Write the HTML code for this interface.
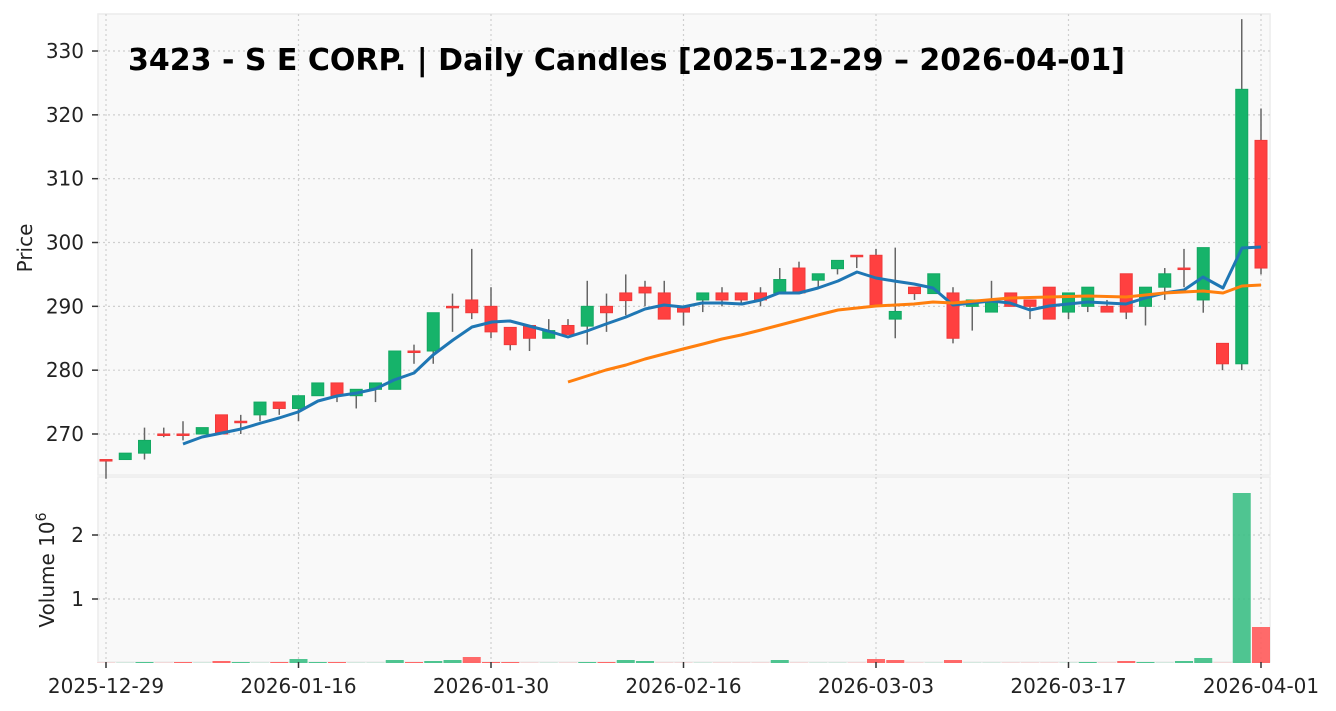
<!DOCTYPE html>
<html><head><meta charset="utf-8"><style>
html,body{margin:0;padding:0;background:#fff;}
svg{display:block;font-family:"DejaVu Sans","Liberation Sans",sans-serif;}
</style></head><body>
<svg id="s" width="1336" height="711" viewBox="0 0 1336 711" xmlns="http://www.w3.org/2000/svg">
<rect x="98" y="14" width="1172" height="461" fill="#f9f9f9" stroke="#ececec" stroke-width="1.5"/>
<rect x="98" y="477" width="1172" height="185" fill="#f9f9f9" stroke="#ececec" stroke-width="1.5"/>
<g id="grid" stroke="#cfcfcf" stroke-width="1.2" stroke-dasharray="2,3"></g>
<g id="vol"></g>
<g id="candles"></g>
<polyline id="ma1" fill="none" stroke="#1f77b4" stroke-width="3" stroke-linejoin="round"/>
<polyline id="ma2" fill="none" stroke="#ff7f0e" stroke-width="3" stroke-linejoin="round"/>
<g id="ticks" fill="#222" font-size="20"></g>
<text x="128" y="70" font-size="30" font-weight="bold" fill="#000">3423 - S E CORP. | Daily Candles [2025-12-29 – 2026-04-01]</text>
<text transform="translate(32,248) rotate(-90)" font-size="20" text-anchor="middle" fill="#222">Price</text>
<text transform="translate(54,570) rotate(-90)" font-size="20" text-anchor="middle" fill="#222">Volume  10<tspan font-size="14" dy="-8">6</tspan></text>
</svg>
<script>
var NS="http://www.w3.org/2000/svg";
function el(p,t,a,txt){var e=document.createElementNS(NS,t);for(var k in a)e.setAttribute(k,a[k]);if(txt!==undefined)e.textContent=txt;document.getElementById(p).appendChild(e);return e;}
function X(i){return 106+i*19.25;}
function Y(p){return 434-(p-270)*6.383;}
function VY(v){return 663-v*64;}
var xt=[[0,"2025-12-29"],[10,"2026-01-16"],[20,"2026-01-30"],[30,"2026-02-16"],[40,"2026-03-03"],[50,"2026-03-17"],[60,"2026-04-01"]];
xt.forEach(function(t){var x=X(t[0]);el("grid","line",{x1:x,x2:x,y1:14,y2:475});el("grid","line",{x1:x,x2:x,y1:477,y2:662});
el("ticks","line",{x1:x,x2:x,y1:662,y2:668,stroke:"#333","stroke-width":1.5});
el("ticks","text",{x:x,y:693,"text-anchor":"middle"},t[1]);});
for(var p=270;p<=330;p+=10){var y=Y(p);el("grid","line",{x1:98,x2:1270,y1:y,y2:y});
el("ticks","line",{x1:92,x2:98,y1:y,y2:y,stroke:"#333","stroke-width":1.5});
el("ticks","text",{x:84,y:y+7,"text-anchor":"end"},p);}
[1,2].forEach(function(v){var y=VY(v);el("grid","line",{x1:98,x2:1270,y1:y,y2:y});
el("ticks","line",{x1:92,x2:98,y1:y,y2:y,stroke:"#333","stroke-width":1.5});
el("ticks","text",{x:84,y:y+7,"text-anchor":"end"},v);});
var G="g",R="r";
var C=[[266,266,263,266,R],[266,267,266,267,G],[267,269,266,271,G],[270,270,269.5,271,R],[270,270,269,272,R],
[270,271,270,271,G],[270,273,270,273,R],[272,272,270,273,R],[273,275,272,275,G],[274,275,273,275,R],
[274,276,272,276,G],[276,278,276,278,G],[276,278,275,278,R],[276,277,274,277,G],[277,278,275,278,G],
[277,283,277,283,G],[283,283,281,284,R],[283,289,281,289,G],[290,290,286,292,R],[289,291,288,299,R],
[286,290,285,293,R],[284,286.7,283.1,286.7,R],[285,287,283,287,R],[285,286.2,285,288,G],[285.6,287,285.6,288,R],
[286.9,290,284,294,G],[289,290,286,292,R],[290.9,292.1,288.6,295,R],[292.1,293,290,294,R],[288,292.1,288,294,R],
[289.1,290,287,290,R],[291,292.1,289.1,292.1,G],[291,292.1,290,293,R],[291,292.1,290.5,292.1,R],[291,292.1,290,293,R],
[292.1,294.2,292.1,296,G],[292.1,296,292.1,297,R],[294.1,295.1,293,295.1,G],[295.9,297.2,295,297.2,G],[298,298,296,298,R],
[290.2,298,290.2,299,R],[288,289.2,285,299.2,G],[292,293,291,293,R],[292,295.1,292,295.1,G],[285,292.1,284.2,293,R],
[290,291,286.2,291,G],[289.1,291,289.1,294,G],[290,292.1,290,292.1,R],[290,291,288,291,R],[288,293,288,293,R],
[289.1,292.1,288,292.1,G],[290,293,289.1,293,G],[289.1,290,289.1,291,R],[289.1,295.1,288,295.1,R],[290,293,287,293,G],
[293,295.1,291,296,G],[296,296,293,299,R],[291,299.2,289,299.2,G],[281,284.2,280,284.2,R],[281,324,280,335,G],[296,316,295,321,R]];
C.forEach(function(c,i){var x=X(i);var col=c[4]==G?"#16b36a":"#ff4040";var sc=c[4]==G?"#13a862":"#f03a3a";
el("candles","line",{x1:x,x2:x,y1:Y(c[3]),y2:Y(c[2]),stroke:"#666","stroke-width":1.5});
var y1=Y(c[1]),y2=Y(c[0]);var h=Math.max(y2-y1,1.5);
el("candles","rect",{x:x-6,y:y1,width:12,height:h,fill:col,stroke:sc,"stroke-width":1});});
var V={0:[0.6,R],2:[1,G],4:[1,R],6:[2,R],7:[1,G],9:[1,R],10:[4,G],11:[1,G],12:[1,R],15:[3,G],16:[1,R],17:[2,G],18:[3,G],19:[6,R],20:[1,R],21:[1,R],23:[0.6,G],25:[1,G],26:[1,R],27:[3,G],28:[2,G],29:[0.6,R],35:[3,G],40:[4,R],41:[3,R],44:[3,R],51:[1,G],53:[2,R],54:[1,G],56:[2,G],57:[5,G],58:[0.6,R],59:[170,G],60:[36,R]};
for(var i=0;i<61;i++){var v=V[i]||[0.6,C[i][4]];var col=v[1]==G?"#3cbf85":"#ff5a5a";var op=V[i]&&v[0]>=1?0.9:0.25;
el("vol","rect",{x:X(i)-9,y:663-v[0],width:18,height:v[0],fill:col,"fill-opacity":op});}
var b=[[183,444],[202,437],[222,433],[241,429],[261,423],[279,418],[298,412],[318,401],[337,396],[357,393],[375,389],[394,380],[414,373],[433,355],[453,340],[472,327],[492,322],[510,321],[529,326],[548,331],[568,337],[587,331],[606,324],[626,317],[645,309],[664,305],[683,307],[702,303],[722,303],[742,304],[761,300],[779,293],[799,293],[818,288],[838,281],[857,272],[876,278],[894,281],[914,284],[933,288],[953,305],[972,303],[991,301],[1010,303],[1030,310],[1049,306],[1068,304],[1088,302],[1107,303],[1126,304],[1145,298],[1164,293],[1184,290],[1203,277],[1223,288],[1242,248],[1261,247]];
document.getElementById("ma1").setAttribute("points",b.map(function(p){return p.join(",")}).join(" "));
var o=[[568,382],[587,376],[606,370],[626,365],[645,359],[664,354],[683,349],[703,344],[722,339],[741,335],[761,330],[780,325],[799,320],[818,315],[838,310],[857,308],[876,306],[914,304],[933,302],[953,303],[1010,298],[1049,297],[1088,296],[1126,297],[1164,293],[1203,291],[1223,293],[1242,286],[1261,285]];
document.getElementById("ma2").setAttribute("points",o.map(function(p){return p.join(",")}).join(" "));
</script>
</body></html>
